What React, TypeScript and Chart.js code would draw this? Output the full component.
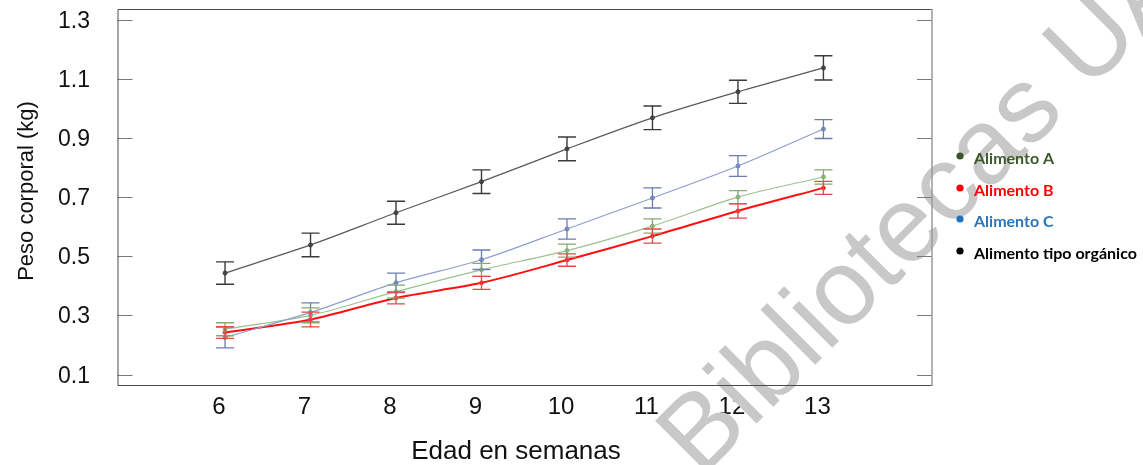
import React, { useEffect, useRef } from "react";
import { Chart, registerables } from "chart.js";
Chart.register(...registerables);

// ---- Data ----
const weeks = [6, 7, 8, 9, 10, 11, 12, 13];
const xTickLabels = ["6", "7", "8", "9", "10", "11", "12", "13"];
const yTicks = [0.1, 0.3, 0.5, 0.7, 0.9, 1.1, 1.3];

const alimentoA = [0.253, 0.3, 0.38, 0.454, 0.519, 0.602, 0.7, 0.768];
const alimentoAErr = [0.022, 0.025, 0.022, 0.022, 0.022, 0.024, 0.022, 0.024];
const alimentoB = [0.242, 0.286, 0.359, 0.41, 0.487, 0.568, 0.653, 0.731];
const alimentoBErr = [0.02, 0.025, 0.02, 0.022, 0.021, 0.024, 0.024, 0.022];
const alimentoC = [0.225, 0.31, 0.41, 0.488, 0.592, 0.697, 0.805, 0.93];
const alimentoCErr = [0.035, 0.032, 0.033, 0.033, 0.034, 0.034, 0.035, 0.032];
const organico = [0.443, 0.538, 0.647, 0.752, 0.863, 0.968, 1.056, 1.137];
const organicoErr = [0.038, 0.04, 0.039, 0.04, 0.04, 0.04, 0.039, 0.041];

const legendLabels = ["Alimento A", "Alimento B", "Alimento C", "Alimento tipo orgánico"];
const legendColors = ["#3b5a28", "#ff0000", "#2e75b6", "#000000"];
const legendDotColors = ["#375623", "#ff0000", "#1f72c4", "#000000"];

const yTitle = "Peso corporal (kg)";
const xTitle = "Edad en semanas";
const watermark = "Bibliotecas UA";

const series = [
  { label: "Alimento tipo orgánico", values: organico, errors: organicoErr, line: "#5a5a5a", bar: "#3a3a3a", width: 1.3, barWidth: 1.4 },
  { label: "Alimento C", values: alimentoC, errors: alimentoCErr, line: "#8c9fcf", bar: "#6b7db3", width: 1.2, barWidth: 1.3 },
  { label: "Alimento A", values: alimentoA, errors: alimentoAErr, line: "#9dc28c", bar: "#86a874", width: 1.2, barWidth: 1.3 },
  { label: "Alimento B", values: alimentoB, errors: alimentoBErr, line: "#ff1010", bar: "#e54848", width: 2, barWidth: 1.3 },
];

const FONT = "'Liberation Sans', Arial, sans-serif";

const watermarkPlugin = {
  id: "watermark",
  beforeDatasetsDraw(chart: any) {
    const ctx = chart.ctx;
    ctx.save();
    ctx.fillStyle = "#c8c8c8";
    ctx.font = `107px ${FONT}`;
    ctx.textAlign = "left";
    ctx.textBaseline = "alphabetic";
    ctx.translate(701, 479);
    ctx.rotate((-45 * Math.PI) / 180);
    ctx.fillText(watermark, 0, 0);
    ctx.restore();
  },
};

const errorBarPlugin = {
  id: "errorBars",
  afterDatasetsDraw(chart: any) {
    const ctx = chart.ctx;
    const xs = chart.scales.x;
    const ys = chart.scales.y;
    ctx.save();
    series.forEach((s) => {
      ctx.strokeStyle = s.bar;
      ctx.lineWidth = s.barWidth;
      s.values.forEach((v, i) => {
        const px = xs.getPixelForValue(weeks[i]);
        const top = ys.getPixelForValue(v + s.errors[i]);
        const bot = ys.getPixelForValue(v - s.errors[i]);
        ctx.beginPath();
        ctx.moveTo(px, top);
        ctx.lineTo(px, bot);
        ctx.moveTo(px - 9, top);
        ctx.lineTo(px + 9, top);
        ctx.moveTo(px - 9, bot);
        ctx.lineTo(px + 9, bot);
        ctx.stroke();
      });
    });
    ctx.restore();
  },
};

const framePlugin = {
  id: "frame",
  afterDraw(chart: any) {
    const ctx = chart.ctx;
    const a = chart.chartArea;
    const ys = chart.scales.y;
    ctx.save();
    // inner ticks + y labels
    ctx.strokeStyle = "#7a7a7a";
    ctx.lineWidth = 1;
    ctx.fillStyle = "#111";
    ctx.font = `23px ${FONT}`;
    ctx.textAlign = "right";
    ctx.textBaseline = "middle";
    yTicks.forEach((t) => {
      const py = Math.round(ys.getPixelForValue(t)) + 0.5;
      ctx.beginPath();
      ctx.moveTo(a.left, py);
      ctx.lineTo(a.left + 15, py);
      ctx.moveTo(a.right - 15, py);
      ctx.lineTo(a.right, py);
      ctx.stroke();
      ctx.fillText(t.toFixed(1), 90, py + 1);
    });
    // box
    ctx.strokeStyle = "#4a4a4a";
    ctx.lineWidth = 1;
    ctx.beginPath();
    ctx.moveTo(a.right, a.top + 0.5);
    ctx.lineTo(a.left + 0.5, a.top + 0.5);
    ctx.lineTo(a.left + 0.5, a.bottom + 0.5);
    ctx.lineTo(a.right, a.bottom + 0.5);
    ctx.stroke();
    ctx.strokeStyle = "#9a9a9a";
    ctx.lineWidth = 1.5;
    ctx.beginPath();
    ctx.moveTo(a.right, a.top);
    ctx.lineTo(a.right, a.bottom + 1);
    ctx.stroke();

    // axis titles
    ctx.fillStyle = "#111";
    ctx.font = `22px ${FONT}`;
    ctx.textAlign = "center";
    ctx.textBaseline = "middle";
    ctx.save();
    ctx.translate(27, 191);
    ctx.rotate(-Math.PI / 2);
    ctx.fillText(yTitle, 0, 0);
    ctx.restore();
    ctx.font = `26px ${FONT}`;
    ctx.textBaseline = "alphabetic";
    ctx.fillText(xTitle, 516, 459);

    // legend
    const rows = [156, 188, 219, 251];
    ctx.font = "bold 16px Lato, 'Open Sans', sans-serif";
    ctx.textAlign = "left";
    ctx.textBaseline = "middle";
    legendLabels.forEach((lab, i) => {
      ctx.fillStyle = legendDotColors[i];
      ctx.beginPath();
      ctx.arc(960, rows[i], 3.6, 0, Math.PI * 2);
      ctx.fill();
      ctx.fillStyle = legendColors[i];
      ctx.fillText(lab, 974, rows[i] + 3);
    });

    ctx.restore();
  },
};

export default function App() {
  const ref = useRef<HTMLCanvasElement | null>(null);
  useEffect(() => {
    document.body.style.margin = "0";
    const canvas = ref.current!;
    const chart = new Chart(canvas, {
      type: "line",
      data: {
        datasets: series.map((s) => ({
          label: s.label,
          data: s.values.map((v, i) => ({ x: weeks[i], y: v })),
          borderColor: s.line,
          backgroundColor: s.line,
          borderWidth: s.width,
          pointRadius: 2,
          pointBorderWidth: 1,
          pointBackgroundColor: s.line,
          pointBorderColor: s.bar,
          tension: 0.3,
          fill: false,
          xAxisID: "x",
          yAxisID: "y",
        })),
      },
      options: {
        animation: false,
        responsive: false,
        devicePixelRatio: 1,
        layout: { padding: { top: 9, right: 211, left: 0, bottom: 0 } },
        plugins: { legend: { display: false }, tooltip: { enabled: false } },
        scales: {
          x: {
            type: "linear",
            position: "bottom",
            min: 4.742,
            max: 14.27,
            afterBuildTicks: (s: any) => {
              s.ticks = weeks.map((w) => ({ value: w }));
            },
            ticks: {
              autoSkip: false,
              maxRotation: 0,
              padding: 8,
              labelOffset: -6,
              color: "#111",
              font: { family: FONT, size: 24 },
              callback: (_v: any, idx: number) => xTickLabels[idx],
            },
            grid: { display: false, drawTicks: false },
            border: { display: false },
            afterFit: (s: any) => {
              s.height = 80;
            },
          },
          y: {
            type: "linear",
            min: 0.0645,
            max: 1.336,
            afterBuildTicks: (s: any) => {
              s.ticks = yTicks.map((v) => ({ value: v }));
            },
            ticks: { display: false },
            grid: { display: false, drawTicks: false },
            border: { display: false },
            afterFit: (s: any) => {
              s.width = 117.5;
            },
          },
        },
      },
      plugins: [watermarkPlugin, errorBarPlugin, framePlugin],
    });
    return () => chart.destroy();
  }, []);
  return (
    <div style={{ position: "absolute", left: 0, top: 0, width: 1143, height: 465, background: "#fff" }}>
      <canvas ref={ref} width={1143} height={465} />
    </div>
  );
}
